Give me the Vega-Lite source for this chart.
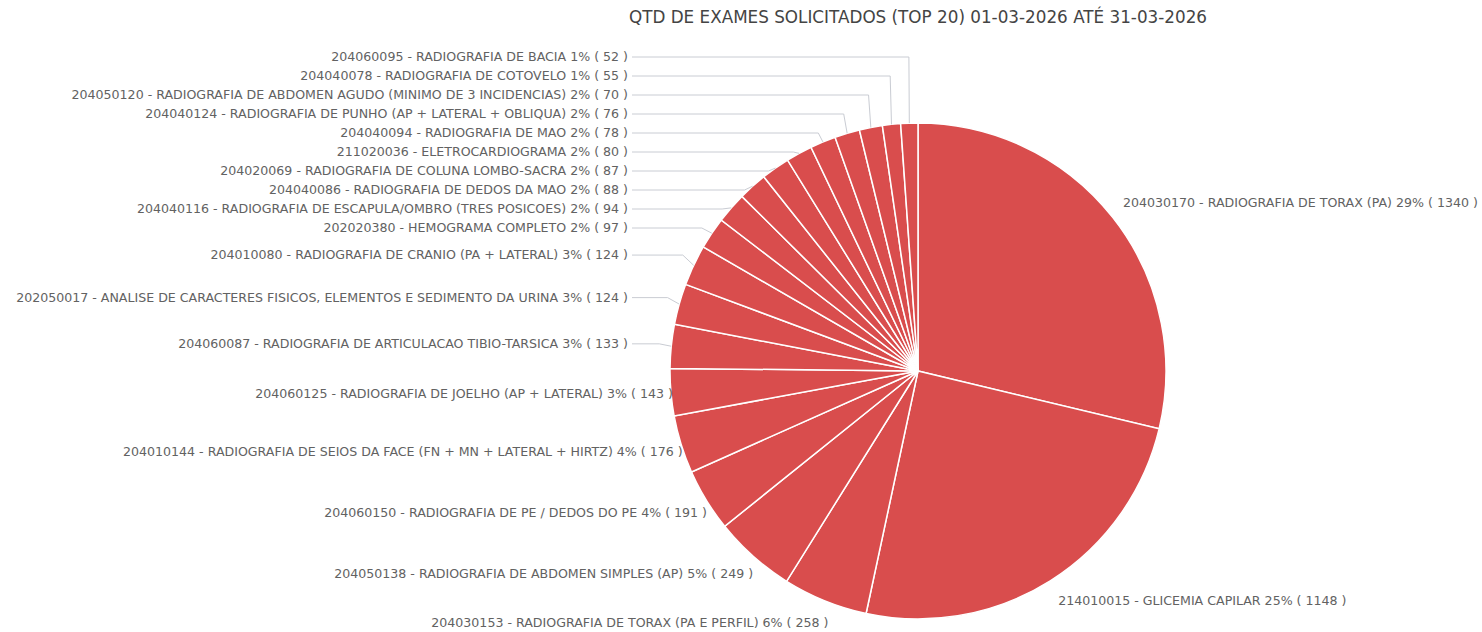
{
  "$schema": "https://vega.github.io/schema/vega-lite/v6.json",
  "autosize": {"type": "none"},
  "width": 1128,
  "height": 522,
  "padding": {"left": 354, "top": 110, "right": 0, "bottom": 0},
  "background": "white",
  "config": {"view": {"stroke": null}},
  "title": {
    "text": "QTD DE EXAMES SOLICITADOS (TOP 20) 01-03-2026 ATÉ 31-03-2026",
    "font": "DejaVu Sans",
    "fontSize": 16.8,
    "fontWeight": "normal",
    "color": "#444444",
    "anchor": "middle",
    "offset": 24
  },
  "data": {
    "values": [
      {"idx": 1, "code": "204030170", "name": "RADIOGRAFIA DE TORAX (PA)", "pct": 29, "value": 1340},
      {"idx": 2, "code": "214010015", "name": "GLICEMIA CAPILAR", "pct": 25, "value": 1148},
      {"idx": 3, "code": "204030153", "name": "RADIOGRAFIA DE TORAX (PA E PERFIL)", "pct": 6, "value": 258},
      {"idx": 4, "code": "204050138", "name": "RADIOGRAFIA DE ABDOMEN SIMPLES (AP)", "pct": 5, "value": 249},
      {"idx": 5, "code": "204060150", "name": "RADIOGRAFIA DE PE / DEDOS DO PE", "pct": 4, "value": 191},
      {"idx": 6, "code": "204010144", "name": "RADIOGRAFIA DE SEIOS DA FACE (FN + MN + LATERAL + HIRTZ)", "pct": 4, "value": 176},
      {"idx": 7, "code": "204060125", "name": "RADIOGRAFIA DE JOELHO (AP + LATERAL)", "pct": 3, "value": 143},
      {"idx": 8, "code": "204060087", "name": "RADIOGRAFIA DE ARTICULACAO TIBIO-TARSICA", "pct": 3, "value": 133},
      {"idx": 9, "code": "202050017", "name": "ANALISE DE CARACTERES FISICOS, ELEMENTOS E SEDIMENTO DA URINA", "pct": 3, "value": 124},
      {"idx": 10, "code": "204010080", "name": "RADIOGRAFIA DE CRANIO (PA + LATERAL)", "pct": 3, "value": 124},
      {"idx": 11, "code": "202020380", "name": "HEMOGRAMA COMPLETO", "pct": 2, "value": 97},
      {"idx": 12, "code": "204040116", "name": "RADIOGRAFIA DE ESCAPULA/OMBRO (TRES POSICOES)", "pct": 2, "value": 94},
      {"idx": 13, "code": "204040086", "name": "RADIOGRAFIA DE DEDOS DA MAO", "pct": 2, "value": 88},
      {"idx": 14, "code": "204020069", "name": "RADIOGRAFIA DE COLUNA LOMBO-SACRA", "pct": 2, "value": 87},
      {"idx": 15, "code": "211020036", "name": "ELETROCARDIOGRAMA", "pct": 2, "value": 80},
      {"idx": 16, "code": "204040094", "name": "RADIOGRAFIA DE MAO", "pct": 2, "value": 78},
      {"idx": 17, "code": "204040124", "name": "RADIOGRAFIA DE PUNHO (AP + LATERAL + OBLIQUA)", "pct": 2, "value": 76},
      {"idx": 18, "code": "204050120", "name": "RADIOGRAFIA DE ABDOMEN AGUDO (MINIMO DE 3 INCIDENCIAS)", "pct": 2, "value": 70},
      {"idx": 19, "code": "204040078", "name": "RADIOGRAFIA DE COTOVELO", "pct": 1, "value": 55},
      {"idx": 20, "code": "204060095", "name": "RADIOGRAFIA DE BACIA", "pct": 1, "value": 52}
    ]
  },
  "transform": [
    {"joinaggregate": [{"op": "sum", "field": "value", "as": "total"}]},
    {"window": [{"op": "sum", "field": "value", "as": "cum"}], "sort": [{"field": "idx", "order": "ascending"}], "frame": [null, 0]},
    {"calculate": "2*PI*(datum.cum - datum.value/2)/datum.total", "as": "mid"},
    {"calculate": "datum.mid > PI ? 'left' : 'right'", "as": "side"},
    {"calculate": "-272*cos(datum.mid)", "as": "ny"},
    {"window": [{"op": "row_number", "as": "ib"}], "groupby": ["side"], "sort": [{"field": "ny", "order": "descending"}]},
    {"calculate": "datum.ny + 19*datum.ib", "as": "a"},
    {"window": [{"op": "min", "field": "a", "as": "ma"}], "groupby": ["side"], "sort": [{"field": "ny", "order": "descending"}], "frame": [null, 0]},
    {"calculate": "datum.ma - 19*datum.ib", "as": "y1"},
    {"window": [{"op": "row_number", "as": "it"}], "groupby": ["side"], "sort": [{"field": "ny", "order": "ascending"}]},
    {"calculate": "datum.y1 - 19*datum.it", "as": "b"},
    {"window": [{"op": "max", "field": "b", "as": "mb"}], "groupby": ["side"], "sort": [{"field": "ny", "order": "ascending"}], "frame": [null, 0]},
    {"calculate": "max(-314 + 19*(datum.it-1), 19*datum.it + datum.mb)", "as": "ly"},
    {"calculate": "cos(datum.mid) > 0 ? (datum.side == 'left' ? -290 : 205) : (datum.side == 'left' ? -1 : 1) * (226*sqrt(max(0, 1 - datum.ly*datum.ly/70225)) + (datum.side == 'left' ? 20 : 28))", "as": "lx"},
    {"calculate": "248*sin(datum.mid)", "as": "ex"},
    {"calculate": "-248*cos(datum.mid)", "as": "ey"},
    {"calculate": "260*sin(datum.mid)", "as": "px"},
    {"calculate": "datum.lx + 4", "as": "lx2"},
    {"calculate": "datum.code + ' - ' + datum.name + ' ' + datum.pct + '% ( ' + datum.value + ' )'", "as": "label"}
  ],
  "layer": [
    {
      "mark": {"type": "arc", "outerRadius": 248, "fill": "#d94d4d", "stroke": "#ffffff", "strokeWidth": 1.5},
      "encoding": {
        "theta": {"field": "value", "type": "quantitative", "stack": true},
        "order": {"field": "idx", "type": "quantitative", "sort": "ascending"}
      }
    },
    {
      "transform": [{"filter": "datum.side == 'left' && cos(datum.mid) > 0"}],
      "mark": {"type": "rule", "color": "#c9ccd3", "strokeWidth": 1},
      "encoding": {
        "x": {"field": "lx2", "type": "quantitative", "scale": {"domain": [-564, 564], "nice": false, "zero": false}, "axis": null},
        "x2": {"field": "px"},
        "y": {"field": "ly", "type": "quantitative", "scale": {"domain": [-261, 261], "nice": false, "zero": false, "reverse": true}, "axis": null},
        "y2": {"field": "ly"}
      }
    },
    {
      "transform": [{"filter": "datum.side == 'left' && cos(datum.mid) > 0"}],
      "mark": {"type": "rule", "color": "#c9ccd3", "strokeWidth": 1},
      "encoding": {
        "x": {"field": "px", "type": "quantitative", "scale": {"domain": [-564, 564], "nice": false, "zero": false}, "axis": null},
        "x2": {"field": "ex"},
        "y": {"field": "ly", "type": "quantitative", "scale": {"domain": [-261, 261], "nice": false, "zero": false, "reverse": true}, "axis": null},
        "y2": {"field": "ey"}
      }
    },
    {
      "transform": [{"filter": "datum.side == 'left'"}],
      "mark": {"type": "text", "align": "right", "baseline": "middle", "font": "DejaVu Sans", "fontSize": 12.6, "color": "#626262"},
      "encoding": {
        "x": {"field": "lx", "type": "quantitative", "scale": {"domain": [-564, 564], "nice": false, "zero": false}, "axis": null},
        "y": {"field": "ly", "type": "quantitative", "scale": {"domain": [-261, 261], "nice": false, "zero": false, "reverse": true}, "axis": null},
        "text": {"field": "label", "type": "nominal"}
      }
    },
    {
      "transform": [{"filter": "datum.side == 'right'"}],
      "mark": {"type": "text", "align": "left", "baseline": "middle", "font": "DejaVu Sans", "fontSize": 12.6, "color": "#626262"},
      "encoding": {
        "x": {"field": "lx", "type": "quantitative", "scale": {"domain": [-564, 564], "nice": false, "zero": false}, "axis": null},
        "y": {"field": "ly", "type": "quantitative", "scale": {"domain": [-261, 261], "nice": false, "zero": false, "reverse": true}, "axis": null},
        "text": {"field": "label", "type": "nominal"}
      }
    }
  ]
}
